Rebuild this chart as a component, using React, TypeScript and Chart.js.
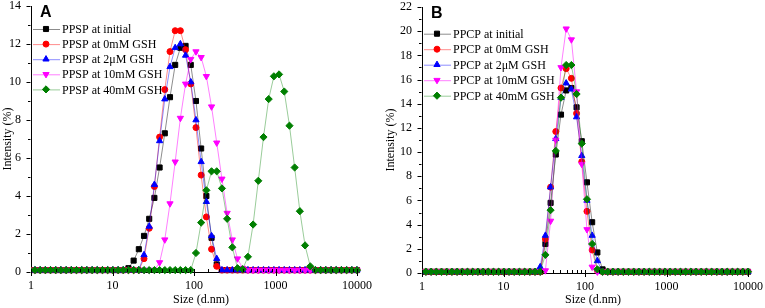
import React, { useEffect, useRef } from 'react';
import { Chart, registerables } from 'chart.js';
import { drawPoint } from 'chart.js/helpers';

Chart.register(...registerables);

// Size bins (d.nm), Malvern 70-bin grid (visible part)
const sizes = [
  0.9649, 1.117, 1.294, 1.499, 1.736, 2.01, 2.328, 2.696, 3.122, 3.615,
  4.187, 4.849, 5.615, 6.503, 7.531, 8.721, 10.1, 11.7, 13.54, 15.69,
  18.17, 21.04, 24.36, 28.21, 32.67, 37.84, 43.82, 50.75, 58.77, 68.06,
  78.82, 91.28, 105.7, 122.4, 141.8, 164.2, 190.1, 220.2, 255.0, 295.3,
  342.0, 396.1, 458.7, 531.2, 615.1, 712.4, 825.0, 955.4, 1106, 1281,
  1484, 1718, 1990, 2305, 2669, 3091, 3580, 4145, 4801, 5560,
  6439, 7456, 8635, 10000,
];

// Panel A (PPSP)
const ppspInitial = [
  0.1, 0.1, 0.1, 0.1, 0.1, 0.1, 0.1, 0.1, 0.1, 0.1,
  0.1, 0.1, 0.1, 0.1, 0.1, 0.1, 0.1, 0.1, 0.1, 0.2,
  0.6, 1.2, 1.9, 2.8, 3.9, 5.5, 7.3, 9.2, 10.9, 11.8,
  11.9, 10.9, 9.0, 6.5, 4.0, 1.8, 0.4, 0.1, 0.1, 0.1,
  0.1, 0.1, 0.1, 0.1, 0.1, 0.1, 0.1, 0.1, 0.1, 0.1,
  0.1, 0.1, 0.1, 0.1, 0.1, 0.1, 0.1, 0.1, 0.1, 0.1,
  0.1, 0.1, 0.1, 0.1,
];
const ppsp0mM = [
  0.1, 0.1, 0.1, 0.1, 0.1, 0.1, 0.1, 0.1, 0.1, 0.1,
  0.1, 0.1, 0.1, 0.1, 0.1, 0.1, 0.1, 0.1, 0.1, 0.1,
  0.1, 0.1, 0.7, 2.3, 4.5, 7.1, 9.6, 11.6, 12.7, 12.7,
  11.7, 9.9, 7.6, 5.1, 2.9, 1.2, 0.3, 0.1, 0.1, 0.1,
  0.1, 0.1, 0.1, 0.1, 0.1, 0.1, 0.1, 0.1, 0.1, 0.1,
  0.1, 0.1, 0.1, 0.1, 0.1, 0.1, 0.1, 0.1, 0.1, 0.1,
  0.1, 0.1, 0.1, 0.1,
];
const ppsp2uM = [
  0.1, 0.1, 0.1, 0.1, 0.1, 0.1, 0.1, 0.1, 0.1, 0.1,
  0.1, 0.1, 0.1, 0.1, 0.1, 0.1, 0.1, 0.1, 0.1, 0.1,
  0.1, 0.1, 0.9, 2.4, 4.6, 6.9, 9.1, 10.8, 11.8, 12.0,
  11.4, 10.0, 8.0, 5.8, 3.7, 1.9, 0.7, 0.1, 0.1, 0.1,
  0.1, 0.1, 0.1, 0.1, 0.1, 0.1, 0.1, 0.1, 0.1, 0.1,
  0.1, 0.1, 0.1, 0.1, 0.1, 0.1, 0.1, 0.1, 0.1, 0.1,
  0.1, 0.1, 0.1, 0.1,
];
const ppsp10mM = [
  0.1, 0.1, 0.1, 0.1, 0.1, 0.1, 0.1, 0.1, 0.1, 0.1,
  0.1, 0.1, 0.1, 0.1, 0.1, 0.1, 0.1, 0.1, 0.1, 0.1,
  0.1, 0.1, 0.1, 0.1, 0.1, 0.5, 1.7, 3.6, 5.8, 8.1,
  9.9, 11.2, 11.6, 11.3, 10.3, 8.7, 6.8, 4.9, 3.1, 1.7,
  0.7, 0.2, 0.1, 0.1, 0.1, 0.1, 0.1, 0.1, 0.1, 0.1,
  0.1, 0.1, 0.1, 0.1, 0.1, 0.1, 0.1, 0.1, 0.1, 0.1,
  0.1, 0.1, 0.1, 0.1,
];
const ppsp40mM = [
  0.1, 0.1, 0.1, 0.1, 0.1, 0.1, 0.1, 0.1, 0.1, 0.1,
  0.1, 0.1, 0.1, 0.1, 0.1, 0.1, 0.1, 0.1, 0.1, 0.1,
  0.1, 0.1, 0.1, 0.1, 0.1, 0.1, 0.1, 0.1, 0.1, 0.1,
  0.1, 0.1, 1.0, 2.6, 4.3, 5.3, 5.3, 4.4, 2.8, 1.3,
  0.2, 0.15, 0.8, 2.5, 4.8, 7.1, 9.1, 10.3, 10.4, 9.5,
  7.7, 5.5, 3.2, 1.4, 0.3, 0.1, 0.1, 0.1, 0.1, 0.1,
  0.1, 0.1, 0.1, 0.1,
];

// Panel B (PPCP)
const ppcpInitial = [
  0.1, 0.1, 0.1, 0.1, 0.1, 0.1, 0.1, 0.1, 0.1, 0.1,
  0.1, 0.1, 0.1, 0.1, 0.1, 0.1, 0.1, 0.1, 0.1, 0.1,
  0.1, 0.1, 0.1, 0.1, 2.4, 5.8, 9.8, 13.1, 15.1, 15.3,
  13.7, 10.9, 7.5, 4.2, 1.7, 0.3, 0.1, 0.1, 0.1, 0.1,
  0.1, 0.1, 0.1, 0.1, 0.1, 0.1, 0.1, 0.1, 0.1, 0.1,
  0.1, 0.1, 0.1, 0.1, 0.1, 0.1, 0.1, 0.1, 0.1, 0.1,
  0.1, 0.1, 0.1, 0.1,
];
const ppcp0mM = [
  0.1, 0.1, 0.1, 0.1, 0.1, 0.1, 0.1, 0.1, 0.1, 0.1,
  0.1, 0.1, 0.1, 0.1, 0.1, 0.1, 0.1, 0.1, 0.1, 0.1,
  0.1, 0.1, 0.1, 0.1, 2.8, 7.1, 11.7, 15.3, 16.9, 16.1,
  13.2, 9.2, 5.1, 1.9, 0.2, 0.1, 0.1, 0.1, 0.1, 0.1,
  0.1, 0.1, 0.1, 0.1, 0.1, 0.1, 0.1, 0.1, 0.1, 0.1,
  0.1, 0.1, 0.1, 0.1, 0.1, 0.1, 0.1, 0.1, 0.1, 0.1,
  0.1, 0.1, 0.1, 0.1,
];
const ppcp2uM = [
  0.1, 0.1, 0.1, 0.1, 0.1, 0.1, 0.1, 0.1, 0.1, 0.1,
  0.1, 0.1, 0.1, 0.1, 0.1, 0.1, 0.1, 0.1, 0.1, 0.1,
  0.1, 0.1, 0.1, 0.5, 3.1, 7.1, 11.1, 14.5, 15.7, 15.2,
  12.9, 9.7, 6.0, 3.1, 1.0, 0.1, 0.1, 0.1, 0.1, 0.1,
  0.1, 0.1, 0.1, 0.1, 0.1, 0.1, 0.1, 0.1, 0.1, 0.1,
  0.1, 0.1, 0.1, 0.1, 0.1, 0.1, 0.1, 0.1, 0.1, 0.1,
  0.1, 0.1, 0.1, 0.1,
];
const ppcp10mM = [
  0.1, 0.1, 0.1, 0.1, 0.1, 0.1, 0.1, 0.1, 0.1, 0.1,
  0.1, 0.1, 0.1, 0.1, 0.1, 0.1, 0.1, 0.1, 0.1, 0.1,
  0.1, 0.1, 0.1, 0.1, 0.2, 4.3, 11.0, 17.0, 20.2, 19.3,
  15.0, 9.0, 3.6, 0.5, 0.1, 0.1, 0.1, 0.1, 0.1, 0.1,
  0.1, 0.1, 0.1, 0.1, 0.1, 0.1, 0.1, 0.1, 0.1, 0.1,
  0.1, 0.1, 0.1, 0.1, 0.1, 0.1, 0.1, 0.1, 0.1, 0.1,
  0.1, 0.1, 0.1, 0.1,
];
const ppcp40mM = [
  0.1, 0.1, 0.1, 0.1, 0.1, 0.1, 0.1, 0.1, 0.1, 0.1,
  0.1, 0.1, 0.1, 0.1, 0.1, 0.1, 0.1, 0.1, 0.1, 0.1,
  0.1, 0.1, 0.1, 0.1, 1.5, 5.2, 10.1, 14.5, 17.2, 17.2,
  14.8, 10.7, 6.1, 2.4, 0.3, 0.1, 0.1, 0.1, 0.1, 0.1,
  0.1, 0.1, 0.1, 0.1, 0.1, 0.1, 0.1, 0.1, 0.1, 0.1,
  0.1, 0.1, 0.1, 0.1, 0.1, 0.1, 0.1, 0.1, 0.1, 0.1,
  0.1, 0.1, 0.1, 0.1,
];

const labelsA = ['PPSP at initial', 'PPSP at 0mM GSH', 'PPSP at 2μM GSH', 'PPSP at 10mM GSH', 'PPSP at 40mM GSH'];
const labelsB = ['PPCP at initial', 'PPCP at 0mM GSH', 'PPCP at 2μM GSH', 'PPCP at 10mM GSH', 'PPCP at 40mM GSH'];
const yMaxA = 14;
const yMaxB = 22;
const xTickLabels = [1, 10, 100, 1000, 10000];
const xTitle = 'Size (d.nm)';
const yTitle = 'Intensity (%)';

// styles
const markerColors = ['#000000', '#ff0000', '#0000ff', '#ff00ff', '#007f00'];
const lineColors = ['rgba(0,0,0,0.45)', 'rgba(255,0,0,0.45)', 'rgba(0,0,255,0.45)', 'rgba(255,0,255,0.5)', 'rgba(0,128,0,0.4)'];
const pointStyles = ['rect', 'circle', 'triangle', 'triangle', 'rectRot'];
const pointRotations = [0, 0, 0, 180, 0];
const pointRadii = [3.6, 3, 3.6, 3.6, 3.6];
const drawOrder = [4, 3, 2, 1, 0];

const SERIF = '"Liberation Serif", "Times New Roman", serif';

type PanelCfg = {
  letter: string;
  labels: string[];
  series: number[][];
  yMax: number;
  pad: { left: number; top: number; right: number; bottom: number };
  yAxisWidth: number;
  xAxisHeight: number;
  legendTop: number;
  legendGap: number;
  xTitleShift: number;
};

function isPow10(v: number) {
  return xTickLabels.some((t) => Math.abs(t - v) < 1e-6 * t);
}

function makePlugin(cfg: PanelCfg) {
  return {
    id: 'deco' + cfg.letter,
    afterDraw(chart: any) {
      const ctx = chart.ctx as CanvasRenderingContext2D;
      const { left, right, top, bottom } = chart.chartArea;
      const xs = chart.scales.x;
      const ys = chart.scales.y;
      ctx.save();
      ctx.strokeStyle = '#000';
      ctx.lineWidth = 1;
      ctx.beginPath();
      xs.ticks.forEach((t: any) => {
        const px = Math.round(xs.getPixelForValue(t.value)) + 0.5;
        if (isPow10(t.value)) {
          ctx.moveTo(px, bottom - 3);
          ctx.lineTo(px, bottom + 4);
        } else {
          ctx.moveTo(px, bottom);
          ctx.lineTo(px, bottom - 3);
        }
      });
      ys.ticks.forEach((t: any) => {
        const py = Math.round(ys.getPixelForValue(t.value)) + 0.5;
        const len = t.value % 2 === 0 ? 4 : 2.5;
        ctx.moveTo(left - 0.5, py);
        ctx.lineTo(left - 0.5 - len, py);
      });
      ctx.stroke();

      // x axis title
      ctx.fillStyle = '#000';
      ctx.font = '12px ' + SERIF;
      ctx.textAlign = 'center';
      ctx.textBaseline = 'middle';
      ctx.fillText(xTitle, (left + right) / 2 + cfg.xTitleShift, chart.height - 8.2);

      // panel letter
      ctx.font = 'bold 16px "Liberation Sans", Arial, sans-serif';
      ctx.textBaseline = 'top';
      ctx.textAlign = 'left';
      ctx.fillText(cfg.letter, left + 9, top - 1);

      // legend
      ctx.font = '12px ' + SERIF;
      ctx.textBaseline = 'middle';
      cfg.labels.forEach((lab, i) => {
        const y = cfg.legendTop + i * cfg.legendGap;
        ctx.strokeStyle = lineColors[i];
        ctx.lineWidth = 1;
        ctx.beginPath();
        ctx.moveTo(left + 2, y + 0.5);
        ctx.lineTo(left + 29, y + 0.5);
        ctx.stroke();
        ctx.fillStyle = markerColors[i];
        ctx.strokeStyle = markerColors[i];
        drawPoint(ctx, { pointStyle: pointStyles[i], rotation: pointRotations[i], radius: pointRadii[i], borderWidth: 1 } as any, left + 15, y);
        ctx.fillStyle = '#000';
        ctx.fillText(lab, left + 31, y + 1);
      });
      ctx.restore();
    },
  };
}

function makeConfig(cfg: PanelCfg): any {
  return {
    type: 'line',
    data: {
      datasets: cfg.series.map((vals, i) => ({
        label: cfg.labels[i],
        data: sizes.map((s, j) => ({ x: s, y: vals[j] })),
        borderColor: lineColors[i],
        backgroundColor: markerColors[i],
        pointBackgroundColor: markerColors[i],
        pointBorderColor: markerColors[i],
        pointStyle: pointStyles[i],
        pointRotation: pointRotations[i],
        pointRadius: pointRadii[i],
        pointBorderWidth: 1,
        borderWidth: 1,
        tension: 0,
        order: drawOrder[i],
        clip: { left: 0, top: false, right: false, bottom: false },
      })),
    },
    options: {
      responsive: false,
      animation: false,
      events: [],
      layout: { padding: cfg.pad, autoPadding: false },
      plugins: { legend: { display: false }, tooltip: { enabled: false } },
      scales: {
        x: {
          type: 'logarithmic',
          min: 1,
          max: 10000,
          afterFit: (s: any) => { s.height = cfg.xAxisHeight; },
          grid: { display: true, drawOnChartArea: false, drawTicks: true, tickLength: 7, tickColor: 'rgba(0,0,0,0)' },
          border: { display: true, color: '#000', width: 1 },
          ticks: {
            autoSkip: false,
            maxRotation: 0,
            padding: 0,
            color: '#000',
            font: { family: SERIF, size: 12 },
            callback: (v: number) => (isPow10(v) ? String(Math.round(v)) : ''),
          },
          title: { display: false },
        },
        y: {
          type: 'linear',
          min: 0,
          max: cfg.yMax,
          afterFit: (s: any) => { s.width = cfg.yAxisWidth; },
          grid: { display: true, drawOnChartArea: false, drawTicks: true, tickLength: 11.5, tickColor: 'rgba(0,0,0,0)' },
          border: { display: true, color: '#000', width: 1 },
          ticks: {
            stepSize: 1,
            autoSkip: false,
            padding: -1.5,
            color: '#000',
            font: { family: SERIF, size: 12 },
            callback: (v: number) => (v % 2 === 0 ? String(v) : ''),
          },
          title: { display: true, text: yTitle, color: '#000', font: { family: SERIF, size: 12 }, padding: { top: 1, bottom: 0 } },
        },
      },
    },
    plugins: [makePlugin(cfg)],
  };
}

const panelA: PanelCfg = {
  letter: 'A',
  labels: labelsA,
  series: [ppspInitial, ppsp0mM, ppsp2uM, ppsp10mM, ppsp40mM],
  yMax: yMaxA,
  pad: { left: 0, top: 6, right: 26, bottom: 0 },
  yAxisWidth: 31,
  xAxisHeight: 36,
  legendTop: 29,
  legendGap: 15.1,
  xTitleShift: 7,
};

const panelB: PanelCfg = {
  letter: 'B',
  labels: labelsB,
  series: [ppcpInitial, ppcp0mM, ppcp2uM, ppcp10mM, ppcp40mM],
  yMax: yMaxB,
  pad: { left: 0, top: 7, right: 17, bottom: 0 },
  yAxisWidth: 39,
  xAxisHeight: 35,
  legendTop: 33.7,
  legendGap: 15.5,
  xTitleShift: 8,
};

function Panel({ cfg, left, width }: { cfg: PanelCfg; left: number; width: number }) {
  const ref = useRef<HTMLCanvasElement>(null);
  useEffect(() => {
    if (!ref.current) return;
    const chart = new Chart(ref.current, makeConfig(cfg));
    return () => chart.destroy();
  }, [cfg]);
  return (
    <canvas
      ref={ref}
      width={width}
      height={308}
      style={{ position: 'absolute', left, top: 0, width, height: 308 }}
    />
  );
}

export default function App() {
  return (
    <div style={{ position: 'fixed', left: 0, top: 0, width: 765, height: 308, background: '#fff', overflow: 'hidden' }}>
      <Panel cfg={panelA} left={0} width={383} />
      <Panel cfg={panelB} left={383} width={382} />
    </div>
  );
}
